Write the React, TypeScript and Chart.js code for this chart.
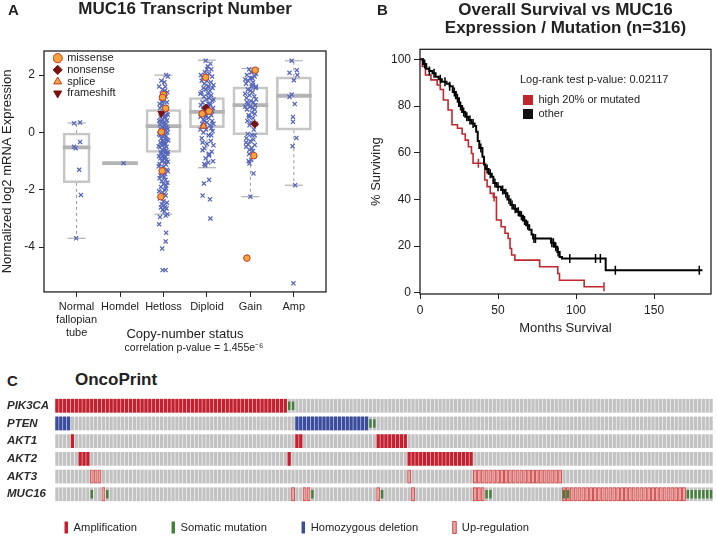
import React, { useEffect, useRef } from 'react';
import { Chart, registerables } from 'chart.js';

Chart.register(...registerables);
Chart.defaults.font.family = "'Liberation Sans', Arial, Helvetica, sans-serif";
Chart.defaults.color = '#222222';

const INK = '#222222';

// ---------------- Panel A: MUC16 expression by copy-number ----------------
const cnaCategories: (string | string[])[] = [['Normal', 'fallopian', 'tube'], 'Homdel', 'Hetloss', 'Diploid', 'Gain', 'Amp'];
const exprTicks = [-4, -2, 0, 2];
const boxQ1 = [-1.76, null, -0.7, 0.17, -0.08, 0.08];
const boxMedian = [-0.52, -1.07, 0.22, 0.72, 0.95, 1.28];
const boxQ3 = [-0.02, null, 0.8, 1.22, 1.59, 1.94];
const whiskerLow = [-3.69, null, -2.85, -1.23, -2.24, -1.84];
const whiskerHigh = [0.33, null, 2.0, 2.52, 2.23, 2.5];

// [jitter offset, log2 expression]
const normalExpr = [[-0.06, 0.32], [0.08, 0.35], [0.08, -0.33], [-0.06, -0.5], [-0.02, -0.55], [0.06, -1.3], [0.1, -2.18], [-0.01, -3.69]];
const homdelExpr = [[0.08, -1.07]];
const hetlossExpr = [
  [0.06, 2.0], [0.1, 1.95], [-0.05, 1.8], [0.02, 1.75], [-0.02, 1.5], [0.03, 1.45], [-0.04, 1.35], [0.05, 1.25], [-0.06, 1.2], [0.0, 1.1],
  [0.08, 1.05], [-0.03, 0.95], [0.04, 0.9], [-0.08, 0.85], [0.02, 0.8], [0.07, 0.75], [-0.04, 0.7], [0.0, 0.65], [0.05, 0.6], [-0.07, 0.55],
  [0.03, 0.5], [-0.02, 0.45], [0.08, 0.42], [-0.05, 0.38], [0.01, 0.35], [0.06, 0.3], [-0.08, 0.28], [0.03, 0.25], [-0.03, 0.2], [0.07, 0.18],
  [0.0, 0.15], [-0.06, 0.1], [0.05, 0.08], [-0.01, 0.05], [0.09, 0.0], [-0.04, -0.02], [0.02, -0.05], [-0.08, -0.1], [0.06, -0.12], [0.0, -0.15],
  [-0.05, -0.2], [0.04, -0.22], [0.08, -0.25], [-0.02, -0.3], [0.03, -0.32], [-0.07, -0.35], [0.05, -0.4], [0.0, -0.42], [-0.04, -0.45], [0.07, -0.5],
  [-0.08, -0.52], [0.02, -0.55], [-0.03, -0.6], [0.06, -0.62], [0.0, -0.65], [-0.06, -0.7], [0.04, -0.72], [0.09, -0.75], [-0.02, -0.8], [0.05, -0.85],
  [-0.07, -0.9], [0.02, -0.92], [0.07, -0.95], [-0.04, -1.0], [0.03, -1.05], [-0.09, -1.1], [0.06, -1.12], [0.0, -1.2], [-0.05, -1.25], [0.08, -1.3],
  [-0.02, -1.4], [0.04, -1.45], [-0.07, -1.5], [0.02, -1.55], [0.05, -1.65], [-0.04, -1.7], [0.0, -1.8], [0.06, -1.85], [-0.06, -1.9], [0.03, -2.0],
  [-0.02, -2.1], [0.05, -2.2], [-0.08, -2.3], [0.0, -2.4], [-0.04, -2.5], [0.04, -2.6], [0.07, -2.65], [-0.02, -2.7], [0.02, -2.75], [0.09, -2.85],
  [-0.08, -2.95], [-0.1, -3.2], [0.06, -3.5], [0.05, -3.8], [-0.03, -4.05], [-0.02, -4.8], [0.05, -4.8],
  [-0.1, 1.6], [0.09, 1.4], [-0.09, 1.0], [0.1, 0.62], [-0.1, 0.4], [0.1, 0.12], [-0.1, -0.05], [0.11, -0.28], [-0.11, -0.48], [0.1, -0.68],
  [-0.1, -0.83], [0.1, -1.02], [-0.11, -1.18], [0.1, -1.35], [-0.09, -1.6], [0.09, -1.75], [-0.1, -2.05], [0.08, -2.45], [-0.06, -2.62], [0.05, -2.9],
  [0.03, 0.55], [-0.01, -0.38], [0.01, -0.88], [-0.02, -1.5], [0.02, -2.15], [0.0, -2.55], [0.04, 1.6], [-0.03, 1.05], [0.06, -1.95], [-0.05, -0.75],
];
const diploidExpr = [
  [-0.03, 2.5], [0.08, 2.4], [0.02, 2.3], [0.1, 2.2], [-0.05, 2.1], [0.05, 2.05], [0.12, 1.95], [-0.1, 1.9], [0.0, 1.8], [0.09, 1.75],
  [-0.06, 1.7], [0.04, 1.6], [0.13, 1.55], [-0.02, 1.5], [0.07, 1.45], [-0.12, 1.4], [0.02, 1.35], [0.1, 1.3], [-0.07, 1.25], [0.05, 1.2],
  [-0.01, 1.15], [0.12, 1.1], [-0.1, 1.05], [0.03, 1.0], [0.08, 0.95], [-0.04, 0.9], [0.14, 0.85], [-0.09, 0.8], [0.01, 0.75], [0.06, 0.7],
  [-0.13, 0.65], [0.1, 0.6], [-0.03, 0.55], [0.04, 0.5], [-0.08, 0.45], [0.12, 0.4], [0.0, 0.35], [-0.11, 0.3], [0.07, 0.25], [-0.05, 0.2],
  [0.1, 0.15], [-0.02, 0.1], [0.13, 0.05], [-0.08, 0.0], [0.04, -0.1], [-0.12, -0.2], [0.09, -0.3], [0.0, -0.4], [0.15, -0.45], [-0.06, -0.55],
  [-0.1, -0.62], [0.11, -0.67], [0.05, -0.8], [-0.03, -0.9], [0.14, -1.0], [0.03, -1.05], [-0.06, -1.1], [-0.04, -1.15], [0.05, -1.65], [-0.07, -1.78],
  [-0.1, -2.2], [0.07, -2.33], [0.08, -3.0],
  [-0.14, 2.0], [0.15, 1.65], [-0.15, 1.35], [0.15, 1.15], [-0.14, 0.95], [0.02, 0.9], [-0.02, 0.6], [0.15, 0.3], [-0.15, 0.1], [0.02, 1.6],
  [0.0, 2.2], [-0.08, 1.55], [0.06, 1.0], [-0.06, 0.4], [0.1, -0.1], [-0.1, -0.35], [0.05, -0.75], [-0.12, 1.8], [0.12, 0.75], [-0.15, 0.55],
];
const gainExpr = [
  [-0.03, 2.2], [0.08, 2.15], [0.02, 2.1], [-0.08, 2.0], [0.1, 1.95], [0.0, 1.9], [-0.05, 1.8], [0.06, 1.75], [-0.1, 1.7], [0.03, 1.6],
  [0.12, 1.55], [-0.06, 1.5], [0.05, 1.4], [-0.02, 1.3], [0.09, 1.25], [-0.09, 1.2], [0.01, 1.1], [0.07, 1.05], [-0.05, 1.0], [0.11, 0.95],
  [-0.01, 0.9], [0.05, 0.85], [-0.08, 0.8], [0.03, 0.7], [0.1, 0.65], [-0.04, 0.6], [0.06, 0.5], [-0.07, 0.4], [0.02, 0.35], [0.12, 0.3],
  [-0.02, 0.25], [0.08, 0.1], [-0.06, -0.05], [0.04, -0.1], [-0.09, -0.2], [0.07, -0.25], [0.0, -0.3], [-0.05, -0.42], [0.1, -0.44], [-0.1, -0.5],
  [0.03, -0.55], [0.06, -0.65], [-0.03, -0.75], [0.02, -0.95], [-0.04, -1.0], [-0.02, -1.08], [0.07, -1.43], [0.0, -2.24],
  [0.13, 2.05], [-0.12, 1.85], [0.13, 1.6], [-0.12, 1.35], [0.13, 1.15], [-0.12, 0.9], [0.0, 1.45], [0.05, 1.65], [-0.03, 0.55], [0.04, 1.9],
  [-0.08, 1.05], [0.1, 0.8], [-0.1, -0.35], [0.1, -0.1], [-0.02, -0.6],
];
const ampExpr = [[-0.05, 2.5], [0.07, 2.17], [-0.1, 2.08], [0.08, 2.0], [0.0, 1.82], [-0.05, 1.32], [-0.1, 1.24], [0.02, 0.99], [-0.02, 0.54], [-0.02, 0.37], [0.06, -0.19], [-0.03, -0.48], [0.03, -1.84], [-0.01, -5.26]];

// [category number, jitter offset, log2 expression]
const missenseMut = [[3, 0.0, 1.32], [3, -0.02, 1.22], [3, 0.05, 0.84], [3, -0.05, 0.02], [3, -0.03, -1.34], [3, -0.06, -2.24], [4, -0.03, 1.92], [4, -0.11, 0.65], [4, 0.05, 0.74], [5, 0.11, 2.17], [5, 0.08, -0.81], [5, -0.08, -4.38]];
const nonsenseMut = [[4, -0.02, 0.86], [5, 0.1, 0.29]];
const spliceMut = [[4, -0.08, 0.22]];
const frameshiftMut = [[3, -0.05, 0.66]];

// ---------------- Panel B: Kaplan-Meier ----------------
const monthTicks = [0, 50, 100, 150];
const survTicks = [0, 20, 40, 60, 80, 100];
const otherTimes = [0, 2, 4, 6, 8, 10, 12, 14, 17, 19, 21, 23, 25, 27, 29, 31, 33, 35, 36, 37, 38, 40, 41, 42, 44, 46, 47, 49, 52, 54, 56, 58, 60, 62, 64, 66, 68, 70, 71.5, 72.5, 84, 86, 88, 89.5, 91, 119, 181];
const otherSurv = [100, 98, 96, 95, 94, 92.6, 91.5, 90.4, 89.5, 88.5, 86, 83.3, 80, 77.5, 75.4, 74, 72.5, 71.5, 69, 65, 62, 58.3, 55, 53, 51, 49.7, 47, 45.4, 44, 42.6, 40, 37.6, 36, 34.7, 33, 31, 29, 27, 25, 23.3, 21.5, 19.7, 17.5, 15.4, 14.7, 9.7, 9.7];
const otherCensored = [3, 6, 9, 13, 16, 19, 22, 24, 26, 28, 30, 32, 34, 39, 43, 45, 48, 50, 53, 55, 57, 59, 61, 63, 65, 67, 69, 73, 74, 84.5, 85.5, 87, 88.5, 96, 112.5, 115.6, 125.2, 179];
const highTimes = [0, 1.5, 3.5, 7, 11, 13, 15, 18, 20.5, 24, 27, 29, 31, 33, 34, 41.5, 43, 45, 47, 49, 52, 54.5, 56.5, 57.7, 58.7, 60.8, 76.7, 88.3, 89.4, 105.2, 117.9];
const highSurv = [100, 97, 93.3, 91.2, 89, 87.1, 82.6, 78.3, 72, 70.5, 68, 65.4, 62.6, 59.7, 55.5, 48.3, 45.5, 42.6, 41, 31.2, 28.3, 25.5, 23.3, 19, 16.2, 14, 11.2, 8.3, 5.4, 2.6, 2.6];
const highCensored = [37.4, 47.5, 117.9];

// ---------------- Panel C: OncoPrint ----------------
const genes = ['PIK3CA', 'PTEN', 'AKT1', 'AKT2', 'AKT3', 'MUC16'];
const sampleCount = 170;
// [gene row, first sample, last sample]
const amplificationRuns = [[0, 0, 59], [2, 4, 4], [2, 62, 63], [2, 83, 90], [3, 6, 8], [3, 60, 60], [3, 91, 107]];
const deletionRuns = [[1, 0, 3], [1, 62, 80]];
const upregulationRuns = [[4, 9, 11], [4, 91, 91], [4, 108, 130], [5, 12, 12], [5, 61, 61], [5, 64, 65], [5, 83, 83], [5, 92, 92], [5, 108, 110], [5, 131, 162]];
const mutationRuns = [[0, 60, 61], [1, 81, 82], [5, 9, 9], [5, 13, 13], [5, 66, 66], [5, 84, 84], [5, 111, 112], [5, 131, 132], [5, 163, 169]];

// ---------------- colours ----------------
const BLUE_X = '#5566bc';
const BOX_GREY = '#c6c6c6';
const MED_GREY = '#b3b3b3';
const MISSENSE_FILL = '#f4a53a';
const MUT_EDGE = '#c0392b';
const DARK_RED = '#7a1212';
const KM_RED = '#c1272d';
const CELL_GREY = '#c2c2c2';
const AMP_RED = '#c81f2e';
const DEL_BLUE = '#3a4ca0';
const MUT_GREEN = '#44803a';
const UP_FILL = '#eba3a3';
const UP_EDGE = '#cf4a4a';

const framePlugin = {
  id: 'frame',
  afterDraw(chart: any, _args: any, opts: any) {
    if (!opts || !opts.display) return;
    const { ctx, chartArea: a } = chart;
    ctx.save();
    ctx.strokeStyle = opts.color;
    ctx.lineWidth = opts.width;
    ctx.strokeRect(a.left, a.top, a.right - a.left, a.bottom - a.top);
    ctx.restore();
  },
};

const setTicks = (values: number[]) => (scale: any) => {
  scale.ticks = values.map((v) => ({ value: v }));
};

function makePanelA(): any {
  const groups = [normalExpr, homdelExpr, hetlossExpr, diploidExpr, gainExpr, ampExpr];
  const points: any[] = [];
  groups.forEach((g, i) => g.forEach(([dx, y]) => points.push({ x: i + 1 + dx, y })));
  const mut = (arr: number[][]) => arr.map(([c, dx, y]) => ({ x: c + dx, y }));

  const whiskers: any[] = [];
  const caps: any[] = [];
  const boxes: any[] = [];
  const normalBox: any[] = [];
  const medians: any[] = [];
  const normalMedian: any[] = [];
  cnaCategories.forEach((_, i) => {
    const x = i + 1;
    const m = { x, y: [boxMedian[i] - 0.055, boxMedian[i] + 0.055] };
    if (i === 0) normalMedian.push(m); else medians.push(m);
    if (boxQ1[i] === null) return;
    whiskers.push({ x, y: boxQ3[i] }, { x, y: whiskerHigh[i] }, { x, y: null });
    whiskers.push({ x, y: boxQ1[i] }, { x, y: whiskerLow[i] }, { x, y: null });
    caps.push({ x, y: whiskerLow[i] }, { x, y: whiskerHigh[i] });
    const b = { x, y: [boxQ1[i], boxQ3[i]] };
    if (i === 0) normalBox.push(b); else boxes.push(b);
  });

  const boxStyle = { type: 'bar', grouped: false, backgroundColor: 'rgba(255,255,255,0)', borderColor: BOX_GREY, borderWidth: 2, borderSkipped: false };
  return {
    type: 'bar',
    data: {
      datasets: [
        { type: 'scatter', label: 'whisker', data: whiskers, showLine: true, spanGaps: false, borderColor: '#9a9a9a', borderWidth: 1, borderDash: [3, 3], pointRadius: 0, order: 10 },
        { type: 'scatter', label: 'cap', data: caps, pointStyle: 'line', pointRadius: 9, borderColor: '#b0b0b0', borderWidth: 1.2, order: 9 },
        { ...boxStyle, label: 'box', data: boxes, barThickness: 35, order: 8 },
        { ...boxStyle, label: 'box normal', data: normalBox, barThickness: 27, order: 8 },
        { type: 'bar', grouped: false, label: 'median', data: medians, barThickness: 35, backgroundColor: MED_GREY, borderWidth: 0, order: 7 },
        { type: 'bar', grouped: false, label: 'median normal', data: normalMedian, barThickness: 27, backgroundColor: MED_GREY, borderWidth: 0, order: 7 },
        { type: 'scatter', label: 'samples', data: points, pointStyle: 'crossRot', pointRadius: 2.9, borderColor: BLUE_X, borderWidth: 1.25, order: 3 },
        { type: 'scatter', label: 'missense', data: mut(missenseMut), pointStyle: 'circle', pointRadius: 3.3, backgroundColor: MISSENSE_FILL, borderColor: MUT_EDGE, borderWidth: 1, order: 1 },
        { type: 'scatter', label: 'nonsense', data: mut(nonsenseMut), pointStyle: 'rectRot', pointRadius: 3.8, backgroundColor: DARK_RED, borderColor: DARK_RED, borderWidth: 1, order: 1 },
        { type: 'scatter', label: 'splice', data: mut(spliceMut), pointStyle: 'triangle', pointRadius: 4, backgroundColor: MISSENSE_FILL, borderColor: MUT_EDGE, borderWidth: 1, order: 1 },
        { type: 'scatter', label: 'frameshift', data: mut(frameshiftMut), pointStyle: 'triangle', pointRotation: 180, pointRadius: 4, backgroundColor: DARK_RED, borderColor: DARK_RED, borderWidth: 1, order: 1 },
      ],
    },
    options: {
      responsive: false,
      animation: false,
      events: [],
      layout: { padding: { left: 0, right: 0, top: 0, bottom: 6 } },
      plugins: {
        legend: { display: false },
        tooltip: { enabled: false },
        title: { display: true, text: 'MUC16 Transcript Number', fullSize: false, color: INK, font: { size: 17, weight: 'bold', lineHeight: 1.1 }, padding: { top: 0, bottom: 32.3 } },
        subtitle: { display: true, position: 'bottom', fullSize: true, text: 'correlation p-value = 1.455e\u207B\u2076', color: INK, font: { size: 10.5, lineHeight: 1.15 }, padding: 0 },
        frame: { display: true, color: '#222', width: 1.3 },
      },
      scales: {
        x: {
          type: 'linear', min: 0.25, max: 6.74, offset: false,
          afterBuildTicks: setTicks(cnaCategories.map((_, i) => i + 1)),
          afterFit: (s: any) => { s.height = 50; },
          ticks: { callback: (v: number) => cnaCategories[Math.round(v) - 1], font: { size: 11 }, color: INK, padding: 3, maxRotation: 0, autoSkip: false },
          grid: { offset: false, drawOnChartArea: false, drawTicks: true, tickLength: 5, color: '#222' },
          border: { display: false },
          title: { display: true, text: 'Copy-number status', color: INK, font: { size: 13 }, padding: { top: 0, bottom: 0 } },
        },
        y: {
          type: 'linear', min: -5.56, max: 2.84,
          afterBuildTicks: setTicks(exprTicks),
          afterFit: (s: any) => { s.width = 44; },
          ticks: { font: { size: 12 }, color: INK, padding: 4 },
          grid: { offset: false, drawOnChartArea: false, drawTicks: true, tickLength: 5, color: '#222' },
          border: { display: false },
          title: { display: true, text: 'Normalized log2 mRNA Expression', color: INK, font: { size: 13 }, padding: { top: 0, bottom: 0 } },
        },
        // empty right-hand margin so that the footnote can centre on the whole panel
        margin: {
          type: 'linear', position: 'right', display: true,
          afterFit: (s: any) => { s.width = 62; },
          ticks: { display: false }, grid: { display: false }, border: { display: false },
        },
      },
    },
    plugins: [framePlugin],
  };
}

function makeMutLegend(): any {
  return {
    type: 'scatter',
    data: {
      datasets: [
        { label: 'missense', data: [], pointStyle: 'circle', backgroundColor: MISSENSE_FILL, borderColor: MUT_EDGE, borderWidth: 1 },
        { label: 'nonsense', data: [], pointStyle: 'rectRot', backgroundColor: DARK_RED, borderColor: DARK_RED, borderWidth: 1 },
        { label: 'splice', data: [], pointStyle: 'triangle', backgroundColor: MISSENSE_FILL, borderColor: MUT_EDGE, borderWidth: 1 },
        { label: 'frameshift', data: [], pointStyle: 'triangle', pointRotation: 180, backgroundColor: DARK_RED, borderColor: DARK_RED, borderWidth: 1 },
      ],
    },
    options: {
      responsive: false, animation: false, events: [],
      scales: { x: { display: false }, y: { display: false } },
      plugins: {
        tooltip: { enabled: false },
        legend: { position: 'left', align: 'start', maxWidth: 110, labels: { usePointStyle: true, boxWidth: 8, boxHeight: 6.5, padding: 0.7, color: INK, font: { size: 11 } } },
      },
    },
  };
}

const survAt = (times: number[], surv: number[], t: number) => {
  let v = surv[0];
  times.forEach((tt, i) => { if (tt <= t) v = surv[i]; });
  return v;
};

function makePanelB(): any {
  const curve = (times: number[], surv: number[]) => times.map((t, i) => ({ x: t, y: surv[i] }));
  const cens = (times: number[], surv: number[], c: number[]) => c.map((t) => ({ x: t, y: survAt(times, surv, t) }));
  return {
    type: 'line',
    data: {
      datasets: [
        { label: 'other', data: curve(otherTimes, otherSurv), stepped: 'before', borderColor: '#000', borderWidth: 2, pointRadius: 0, fill: false, order: 1 },
        { type: 'scatter', label: 'other censored', data: cens(otherTimes, otherSurv, otherCensored), pointStyle: 'line', pointRotation: 90, pointRadius: 4.5, borderColor: '#000', borderWidth: 1.5, order: 1 },
        { label: 'high 20% or mutated', data: curve(highTimes, highSurv), stepped: 'before', borderColor: KM_RED, borderWidth: 1.6, pointRadius: 0, fill: false, order: 2 },
        { type: 'scatter', label: 'high censored', data: cens(highTimes, highSurv, highCensored), pointStyle: 'line', pointRotation: 90, pointRadius: 4.5, borderColor: KM_RED, borderWidth: 1.5, order: 2 },
      ],
    },
    options: {
      responsive: false, animation: false, events: [],
      layout: { padding: { left: 0, right: 2, top: 0, bottom: 1 } },
      plugins: {
        legend: { display: false },
        tooltip: { enabled: false },
        title: { display: true, text: ['Overall Survival vs MUC16', 'Expression / Mutation (n=316)'], fullSize: false, color: INK, font: { size: 17, weight: 'bold', lineHeight: 1.08 }, padding: { top: 0.8, bottom: 11.8 } },
        frame: { display: true, color: '#222', width: 1.3 },
      },
      scales: {
        x: {
          type: 'linear', min: 0, max: 186.5,
          afterBuildTicks: setTicks(monthTicks),
          afterFit: (s: any) => { s.height = 45; },
          ticks: { font: { size: 12 }, color: INK, padding: 4, maxRotation: 0 },
          grid: { drawOnChartArea: false, drawTicks: true, tickLength: 5, color: '#222' },
          border: { display: false },
          title: { display: true, text: 'Months Survival', color: INK, font: { size: 13 }, padding: { top: 0, bottom: 3.2 } },
        },
        y: {
          type: 'linear', min: -0.5, max: 104.3,
          afterBuildTicks: setTicks(survTicks),
          afterFit: (s: any) => { s.width = 60; },
          ticks: { font: { size: 12 }, color: INK, padding: 3 },
          grid: { drawOnChartArea: false, drawTicks: true, tickLength: 6, color: '#222' },
          border: { display: false },
          title: { display: true, text: '% Surviving', color: INK, font: { size: 13 }, padding: { top: 9, bottom: 0 } },
        },
      },
    },
    plugins: [framePlugin],
  };
}

function makeKmLegend(): any {
  return {
    type: 'bar',
    data: {
      labels: [],
      datasets: [
        { label: 'high 20% or mutated', data: [], backgroundColor: KM_RED, borderWidth: 0 },
        { label: 'other', data: [], backgroundColor: '#111', borderWidth: 0 },
      ],
    },
    options: {
      responsive: false, animation: false, events: [],
      scales: { x: { display: false }, y: { display: false } },
      plugins: {
        tooltip: { enabled: false },
        legend: {
          position: 'top', align: 'start', maxHeight: 62,
          title: { display: true, text: 'Log-rank test p-value: 0.02117', position: 'start', color: INK, font: { size: 11 }, padding: { top: 4.5, bottom: 3.8 } },
          labels: { boxWidth: 10, boxHeight: 10, padding: 3, color: INK, font: { size: 11 } },
        },
      },
    },
  };
}

function makeOncoPrint(): any {
  const cells = (runs: number[][], half: number) => {
    const out: any[] = [];
    runs.forEach(([g, a, b]) => { for (let s = a; s <= b; s++) out.push({ x: s, y: [g - half, g + half] }); });
    return out;
  };
  const background = cells(genes.map((_, g) => [g, 0, sampleCount - 1]), 0.37);
  const base = { type: 'bar', grouped: false, borderWidth: 0 };
  return {
    type: 'bar',
    data: {
      datasets: [
        { ...base, label: 'unaltered', data: background, backgroundColor: CELL_GREY, barThickness: 2.6, order: 5 },
        { ...base, label: 'Amplification', data: cells(amplificationRuns, 0.37), backgroundColor: AMP_RED, barThickness: 2.6, order: 3 },
        { ...base, label: 'Homozygous deletion', data: cells(deletionRuns, 0.37), backgroundColor: DEL_BLUE, barThickness: 2.6, order: 3 },
        { ...base, label: 'Up-regulation', data: cells(upregulationRuns, 0.37), backgroundColor: UP_FILL, borderColor: UP_EDGE, borderWidth: 0.9, borderSkipped: false, barThickness: 3.2, order: 2 },
        { ...base, label: 'Somatic mutation', data: cells(mutationRuns, 0.22), backgroundColor: MUT_GREEN, barThickness: 1.8, order: 1 },
      ],
    },
    options: {
      responsive: false, animation: false, events: [],
      layout: { padding: { left: 7, right: 4, top: 5.5, bottom: 0.5 } },
      plugins: { legend: { display: false }, tooltip: { enabled: false } },
      scales: {
        x: { type: 'linear', display: false, offset: false, min: -0.5, max: sampleCount - 0.5, afterBuildTicks: setTicks([0, sampleCount - 1]) },
        y: {
          type: 'linear', reverse: true, min: -0.5, max: genes.length - 0.5, offset: false,
          afterBuildTicks: setTicks(genes.map((_, i) => i)),
          afterFit: (s: any) => { s.width = 48; },
          ticks: { callback: (v: number) => genes[Math.round(v)], crossAlign: 'far', color: '#2a2a2a', font: { size: 11.5, weight: 'bold', style: 'italic' }, padding: 0 },
          grid: { display: false },
          border: { display: false },
        },
      },
    },
  };
}

function makeOncoLegend(): any {
  return {
    type: 'bar',
    data: {
      labels: [],
      datasets: [
        { label: 'Amplification', data: [], backgroundColor: AMP_RED, borderWidth: 0 },
        { label: 'Somatic mutation', data: [], backgroundColor: MUT_GREEN, borderWidth: 0 },
        { label: 'Homozygous deletion', data: [], backgroundColor: DEL_BLUE, borderWidth: 0 },
        { label: 'Up-regulation', data: [], backgroundColor: UP_FILL, borderColor: UP_EDGE, borderWidth: 1 },
      ],
    },
    options: {
      responsive: false, animation: false, events: [],
      scales: { x: { display: false }, y: { display: false } },
      plugins: {
        tooltip: { enabled: false },
        legend: { position: 'top', align: 'start', maxHeight: 49, labels: { boxWidth: 3.5, boxHeight: 12, padding: 34.5, color: INK, font: { size: 11.2 } } },
      },
    },
  };
}

function ChartBox({ make, left, top, width, height }: { make: () => any; left: number; top: number; width: number; height: number }) {
  const ref = useRef<HTMLCanvasElement>(null);
  useEffect(() => {
    const chart = new Chart(ref.current as HTMLCanvasElement, make());
    return () => chart.destroy();
  }, []);
  return <canvas ref={ref} width={width} height={height} style={{ position: 'absolute', left, top, width, height }} />;
}

const heading = (left: number, top: number, size: number): React.CSSProperties => ({
  position: 'absolute', left, top, fontFamily: "'Liberation Sans', Arial, sans-serif", fontWeight: 'bold', fontSize: size, lineHeight: 1, color: INK, whiteSpace: 'nowrap',
});

export default function App() {
  return (
    <div style={{ position: 'fixed', left: 0, top: 0, width: 717, height: 536, background: '#ffffff', overflow: 'hidden' }}>
      <ChartBox make={makePanelA} left={0} top={0} width={388} height={360} />
      <ChartBox make={makeMutLegend} left={53} top={52} width={200} height={50} />
      <ChartBox make={makePanelB} left={360} top={0} width={357} height={340} />
      <ChartBox make={makeKmLegend} left={520} top={70} width={165} height={62} />
      <ChartBox make={makeOncoPrint} left={0} top={390} width={717} height={120} />
      <ChartBox make={makeOncoLegend} left={29.5} top={487} width={688} height={49} />
      <div style={heading(8, 1.5, 15)}>A</div>
      <div style={heading(377, 1.5, 15)}>B</div>
      <div style={heading(7, 373, 15)}>C</div>
      <div style={heading(75, 371, 17)}>OncoPrint</div>
    </div>
  );
}
